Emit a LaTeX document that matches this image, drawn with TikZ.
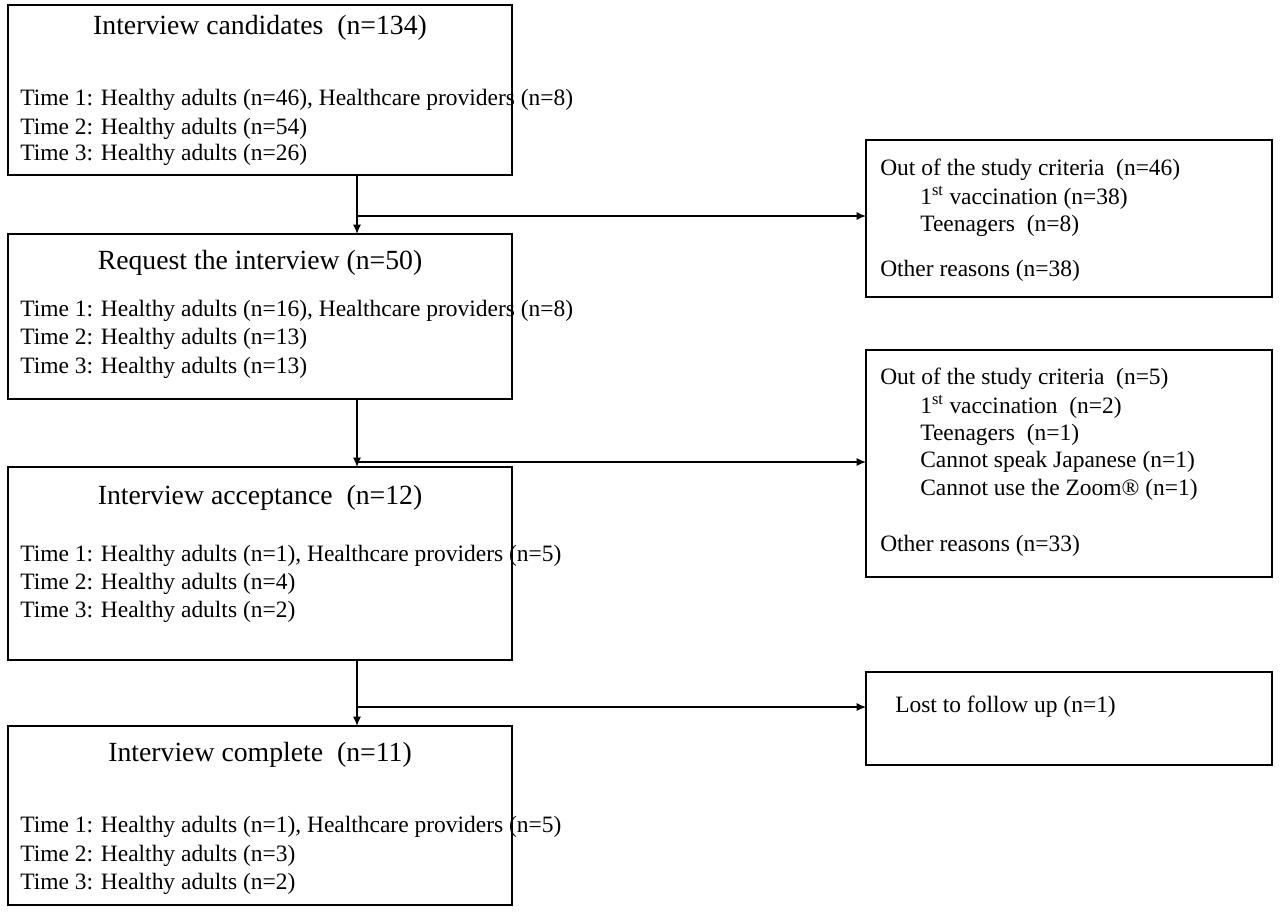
\documentclass[tikz,border=0pt]{standalone}
\usepackage{fontspec}
\setmainfont{Liberation Serif}
\usetikzlibrary{arrows.meta}
\begin{document}
\begin{tikzpicture}[x=0.75pt,y=-0.75pt,
 box/.style={draw,line width=1.3pt},
 t/.style={anchor=west,inner sep=0,font=\fontsize{17.6}{19}\selectfont},
 h/.style={anchor=center,inner sep=0,font=\fontsize{20.8}{22}\selectfont},
 arr/.style={draw,line width=0.9pt,-{Latex[length=7pt,width=6pt]}}]
\useasboundingbox (0,0) rectangle (1280,911);
\draw[box] (8,5) rectangle (512,175);
\draw[box] (8,234) rectangle (512,399);
\draw[box] (8,467) rectangle (512,660);
\draw[box] (8,726) rectangle (512,905);
\draw[box] (866,140) rectangle (1272,297);
\draw[box] (866,350) rectangle (1272,577);
\draw[box] (866,672) rectangle (1272,765);
\node[h] (b1) at (260,28) {Interview candidates\ \ (n=134)};
\node[t] at (20,100) {Time 1: Healthy adults (n=46), Healthcare providers (n=8)};
\node[t] at (20,129) {Time 2: Healthy adults (n=54)};
\node[t] at (20,155) {Time 3: Healthy adults (n=26)};
\node[h] (b2) at (260,263) {Request the interview (n=50)};
\node[t] at (20,311) {Time 1: Healthy adults (n=16), Healthcare providers (n=8)};
\node[t] at (20,339) {Time 2: Healthy adults (n=13)};
\node[t] at (20,368) {Time 3: Healthy adults (n=13)};
\node[h] (b3) at (260,498) {Interview acceptance\ \ (n=12)};
\node[t] at (20,556) {Time 1: Healthy adults (n=1), Healthcare providers (n=5)};
\node[t] at (20,584) {Time 2: Healthy adults (n=4)};
\node[t] at (20,612) {Time 3: Healthy adults (n=2)};
\node[h] (b4) at (260,755) {Interview complete\ \ (n=11)};
\node[t] at (20,827) {Time 1: Healthy adults (n=1), Healthcare providers (n=5)};
\node[t] at (20,856) {Time 2: Healthy adults (n=3)};
\node[t] at (20,884) {Time 3: Healthy adults (n=2)};
\node[t] at (880,170) {Out of the study criteria\ \ (n=46)};
\node[t] at (920,198) {1\textsuperscript{st} vaccination (n=38)};
\node[t] at (920,226) {Teenagers\ \ (n=8)};
\node[t] at (880,271) {Other reasons (n=38)};
\node[t] at (880,379) {Out of the study criteria\ \ (n=5)};
\node[t] at (920,407) {1\textsuperscript{st} vaccination\ \ (n=2)};
\node[t] at (920,435) {Teenagers\ \ (n=1)};
\node[t] at (920,462) {Cannot speak Japanese (n=1)};
\node[t] at (920,490) {Cannot use the Zoom® (n=1)};
\node[t] at (880,546) {Other reasons (n=33)};
\node[t] at (895,707) {Lost to follow up (n=1)};
\coordinate (a1) at (357,175); \coordinate (a2) at (357,234);
\coordinate (m1) at (357,216); \coordinate (r1) at (866,216);
\coordinate (c1) at (357,399); \coordinate (c2) at (357,467);
\coordinate (m2) at (357,462); \coordinate (r2) at (866,462);
\coordinate (d1) at (357,660); \coordinate (d2) at (357,726);
\coordinate (m3) at (357,707); \coordinate (r3) at (866,707);
\draw[arr] (a1) -- (a2); \draw[arr] (m1) -- (r1);
\draw[arr] (c1) -- (c2); \draw[arr] (m2) -- (r2);
\draw[arr] (d1) -- (d2); \draw[arr] (m3) -- (r3);
\end{tikzpicture}
\end{document}
